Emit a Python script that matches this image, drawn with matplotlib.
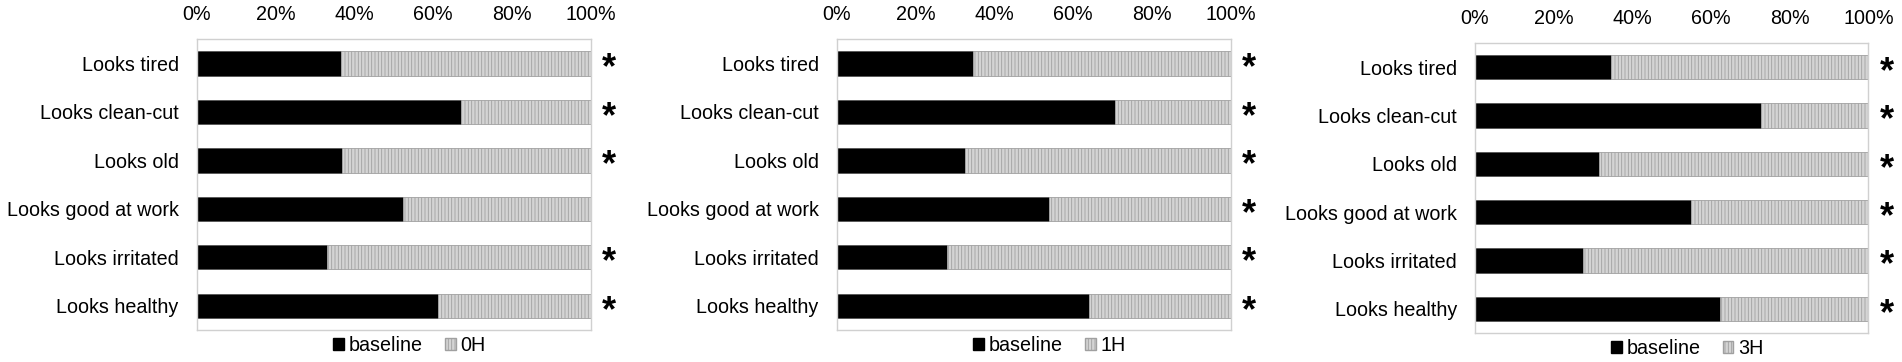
"""Stacked horizontal bars: baseline vs 0H / 1H / 3H"""

import numpy as np
import matplotlib
matplotlib.use("Agg")
import matplotlib.pyplot as plt
from matplotlib.patches import Patch

plt.rcParams['font.family'] = ['Liberation Sans', 'DejaVu Sans']
plt.rcParams['hatch.linewidth'] = 0.6

# Data
items = ["Looks tired", "Looks clean-cut", "Looks old",
         "Looks good at work", "Looks irritated", "Looks healthy"]
baseline_0h = [0.366, 0.672, 0.370, 0.524, 0.331, 0.612]
baseline_1h = [0.346, 0.706, 0.325, 0.539, 0.279, 0.641]
baseline_3h = [0.346, 0.728, 0.316, 0.550, 0.275, 0.623]
labels = ["0H", "1H", "3H"]
stars_0h = [True, True, True, False, True, True]
stars_1h = [True] * 6
stars_3h = [True] * 6
xticks = [0, 0.2, 0.4, 0.6, 0.8, 1.0]
xticklabels = ["0%", "20%", "40%", "60%", "80%", "100%"]

W, H = 1902, 362
fig = plt.figure(figsize=(W / 100, H / 100), dpi=100)

# axes boxes in pixels: left, top, right, bottom
boxes = [(196.7, 39.3, 590.7, 330.0),
         (836.7, 39.3, 1230.7, 330.0),
         (1475.0, 43.0, 1868.5, 333.0)]

fs = 14.2
gray_face = '#d4d4d4'
gray_edge = '#a0a0a0'

for box, base, lab, stars in zip(boxes, [baseline_0h, baseline_1h, baseline_3h],
                                 labels, [stars_0h, stars_1h, stars_3h]):
    l, t, r, b = box
    ax = fig.add_axes([l / W, 1 - b / H, (r - l) / W, (b - t) / H])
    y = np.arange(len(items))
    base = np.array(base)
    rest = 1 - base
    ax.barh(y, base, height=0.5, color='black', edgecolor='#555555', linewidth=0.6)
    ax.barh(y, rest, left=base, height=0.5, color=gray_face,
            edgecolor=gray_edge, hatch='|||||', linewidth=0.6)
    ax.set_xlim(0, 1)
    ax.set_ylim(len(items) - 0.5, -0.5)
    ax.set_yticks(y)
    ax.set_yticklabels(items, fontsize=fs)
    ax.set_xticks(xticks)
    ax.set_xticklabels(xticklabels, fontsize=fs)
    ax.xaxis.tick_top()
    ax.tick_params(axis='both', length=0)
    ax.tick_params(axis='x', pad=11)
    ax.tick_params(axis='y', pad=13)
    for sp in ax.spines.values():
        sp.set_color('#d0d0d0')
        sp.set_linewidth(1.0)

    # significance marks
    for i, s in enumerate(stars):
        if s:
            ax.text(1.046, i + 0.31, '*', fontsize=26, fontweight='bold',
                    ha='center', va='baseline', clip_on=False)

    handles = [Patch(facecolor='black', edgecolor='black'),
               Patch(facecolor=gray_face, edgecolor=gray_edge, hatch='|||||')]
    ax.legend(handles, ['baseline', lab], loc='upper center',
              bbox_to_anchor=(0.54, 0.007), ncol=2, frameon=False,
              fontsize=fs, handlelength=0.55, handleheight=0.6,
              handletextpad=0.25, columnspacing=1.1, borderaxespad=0)

fig.savefig("out.png", dpi=100)
